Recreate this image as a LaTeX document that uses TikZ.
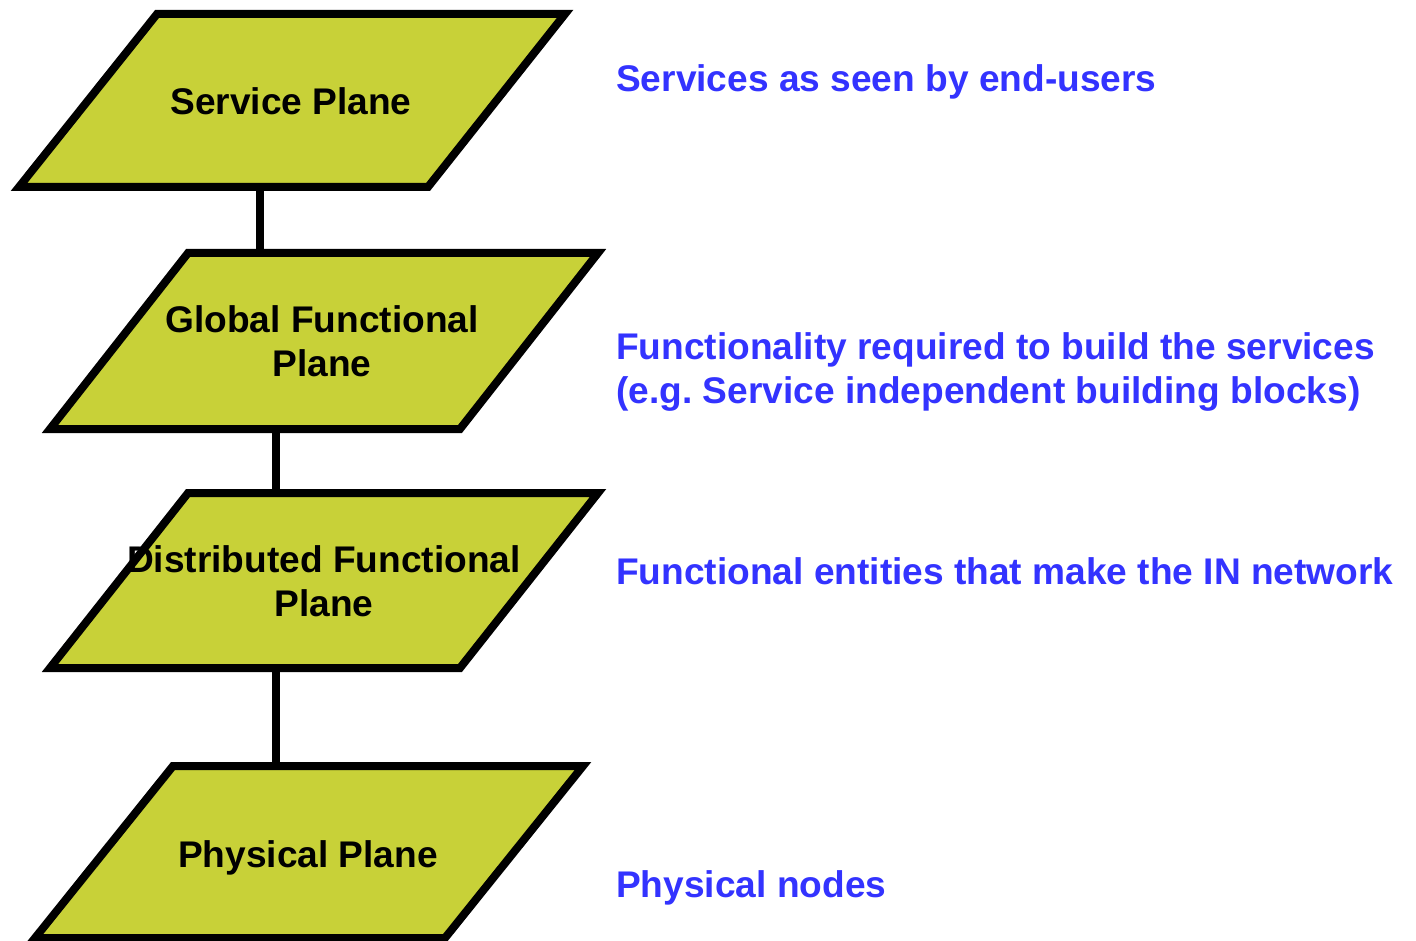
\documentclass[tikz,border=0pt]{standalone}
\usepackage{fontspec}
\setmainfont{Liberation Sans}
\definecolor{planegreen}{RGB}{200,209,56}
\definecolor{noteblue}{RGB}{51,51,255}
\begin{document}
\begin{tikzpicture}[x=1pt,y=-1pt,
  plane/.style={draw=black,line width=8pt,line join=miter,fill=planegreen},
  link/.style={draw=black,line width=8pt},
  planetext/.style={inner sep=0pt,align=center,font=\fontsize{37.1}{44}\selectfont\bfseries,text=black},
  note/.style={inner sep=0pt,align=left,font=\fontsize{37.1}{44}\selectfont\bfseries,text=noteblue}]
\useasboundingbox (0,0) rectangle (1416,941);
% connectors (behind the planes)
\coordinate (sp-b) at (260,187);
\coordinate (gf-t) at (260,253);
\coordinate (gf-b) at (276,429);
\coordinate (df-t) at (276,493);
\coordinate (df-b) at (276,668);
\coordinate (pp-t) at (276,766);
\draw[link] (sp-b) -- (gf-t);
\draw[link] (gf-b) -- (df-t);
\draw[link] (df-b) -- (pp-t);
% planes
\draw[plane] (157,14) -- (565,14) -- (428,187) -- (19,187) -- cycle;
\draw[plane] (188,253) -- (598,253) -- (460,429) -- (50,429) -- cycle;
\draw[plane] (188,493) -- (598,493) -- (460,668) -- (50,668) -- cycle;
\draw[plane] (173,766) -- (583,766) -- (445,938) -- (35,938) -- cycle;
% plane labels
\node[planetext,anchor=base] (sp) at (291,115) {Service Plane};
\node[planetext] (gf) at (322,341) {Global Functional\\Plane};
\node[planetext] (df) at (324,581) {Distributed Functional\\Plane};
\node[planetext,anchor=base] (pp) at (308,867) {Physical Plane};
% descriptions
\node[note,anchor=base west] (n1) at (616,92) {Services as seen by end-users};
\node[note,anchor=west] (n2) at (616,372) {Functionality required to build the services\\(e.g.\ Service independent building blocks)};
\node[note,anchor=base west] (n3) at (616,584) {Functional entities that make the IN network};
\node[note,anchor=base west] (n4) at (616,897) {Physical nodes};
\end{tikzpicture}
\end{document}
